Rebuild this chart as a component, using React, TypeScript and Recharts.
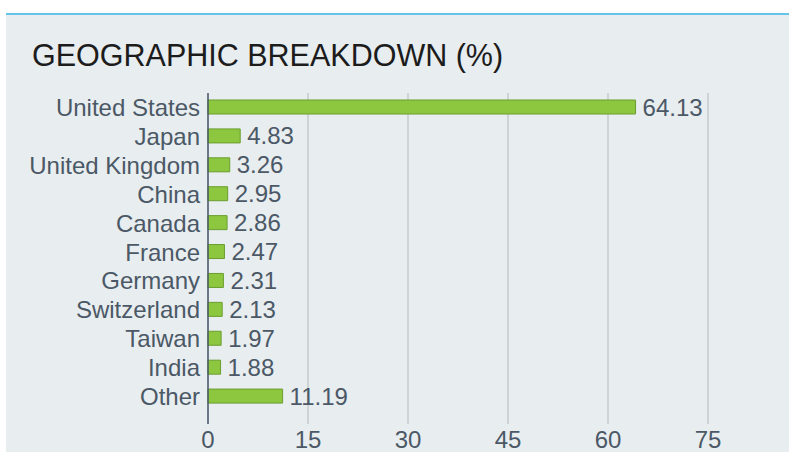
import { BarChart, Bar, XAxis, YAxis, CartesianGrid, LabelList } from 'recharts';

const countries = [
  'United States',
  'Japan',
  'United Kingdom',
  'China',
  'Canada',
  'France',
  'Germany',
  'Switzerland',
  'Taiwan',
  'India',
  'Other',
];

const weights = [64.13, 4.83, 3.26, 2.95, 2.86, 2.47, 2.31, 2.13, 1.97, 1.88, 11.19];

const xTicks = [0, 15, 30, 45, 60, 75];

const data = countries.map((country, i) => ({ country, value: weights[i] }));

const FONT = '"Liberation Sans", Arial, Helvetica, sans-serif';
const TEXT = '#4b5866';

export default function App() {
  return (
    <div
      style={{
        position: 'absolute',
        left: 0,
        top: 0,
        width: 789,
        height: 452,
        background: '#fff',
        overflow: 'hidden',
        fontFamily: FONT,
      }}
    >
      {/* panel */}
      <div
        style={{
          position: 'absolute',
          left: 6,
          top: 13,
          right: 0,
          bottom: 0,
          background: '#e8edf0',
          borderTop: '2px solid #66c3ea',
        }}
      />
      <div
        style={{
          position: 'absolute',
          left: 32,
          top: 36,
          fontSize: 30.5,
          color: '#1c1c1c',
          whiteSpace: 'nowrap',
          lineHeight: '38px',
        }}
      >
        GEOGRAPHIC BREAKDOWN (%)
      </div>
      <div style={{ position: 'absolute', left: 0, top: 0 }}>
        <BarChart
          width={789}
          height={452}
          data={data}
          layout="vertical"
          margin={{ top: 93, right: 81, bottom: 0, left: 0 }}
        >
          <CartesianGrid horizontal={false} stroke="#c6cacd" strokeWidth={1.5} />
          <XAxis
            type="number"
            domain={[0, 75]}
            ticks={xTicks}
            axisLine={false}
            tickLine={false}
            tickSize={0}
            tickMargin={7}
            height={28}
            interval={0}
            tick={{ fill: TEXT, fontSize: 24, fontFamily: FONT }}
          />
          <YAxis
            type="category"
            dataKey="country"
            width={208}
            padding={{ top: 0, bottom: 13 }}
            axisLine={{ stroke: '#4a5a6a', strokeWidth: 1.5 }}
            tickLine={false}
            tickSize={0}
            tickMargin={8}
            interval={0}
            tick={{ fill: TEXT, fontSize: 24, fontFamily: FONT }}
          />
          <Bar
            dataKey="value"
            fill="#8dc63f"
            stroke="#6a9e2e"
            strokeWidth={1}
            barSize={14}
            isAnimationActive={false}
          >
            <LabelList
              dataKey="value"
              position="right"
              offset={7}
              fill={TEXT}
              fontSize={24}
              fontFamily={FONT}
              formatter={(v: number) => v.toFixed(2)}
            />
          </Bar>
        </BarChart>
      </div>
    </div>
  );
}
